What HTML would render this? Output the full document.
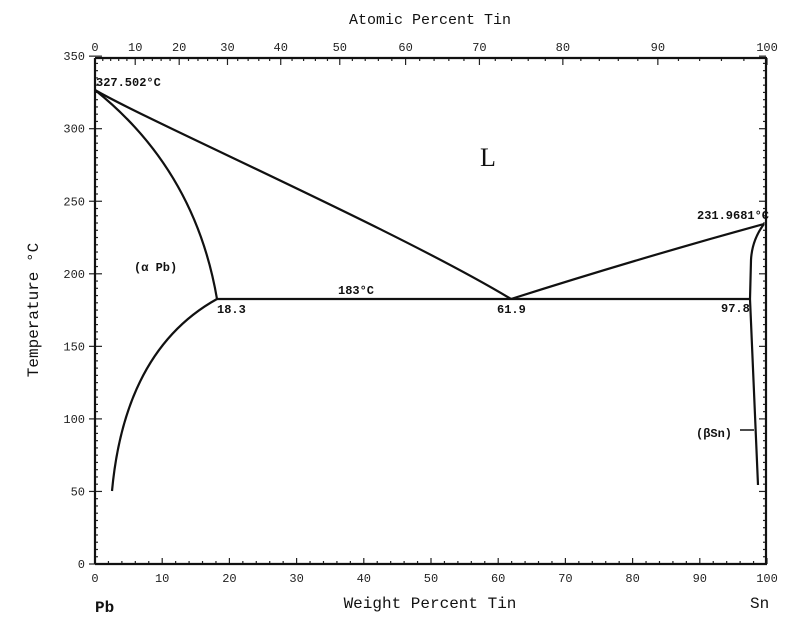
<!DOCTYPE html>
<html><head><meta charset="utf-8"><style>
body{margin:0;background:#fff;}
svg{display:block;font-family:"Liberation Mono",monospace;}
</style></head><body>
<svg id="s" width="800" height="620" viewBox="0 0 800 620" xmlns="http://www.w3.org/2000/svg">
<rect width="800" height="620" fill="#fff"/>
<g id="ticks" stroke="#222" stroke-width="1.2"></g>
<g fill="none" stroke="#111" stroke-width="2.2" stroke-linejoin="round">
<line x1="95" y1="58" x2="767" y2="58"/>
<line x1="95" y1="58" x2="95" y2="564"/>
<line x1="95" y1="564" x2="767" y2="564"/>
<line x1="766" y1="58" x2="766" y2="564"/>
<path d="M95,90 C150,122 400,232 511,299"/>
<path d="M95,90 Q195,170 217,299"/>
<path d="M217,299 Q125,350 112,491"/>
<line x1="217" y1="299" x2="750" y2="299"/>
<path d="M511,299 Q640,258 764,224"/>
<path d="M764,224 Q752,240 751,260 L750,299 Q754,400 758,485"/>
<path d="M740,430 L754,430" stroke-width="1.5"/>
</g>
<g font-size="12" fill="#111" font-weight="bold">
<text x="96" y="86">327.502°C</text>
<text x="697" y="219">231.9681°C</text>
<text x="217" y="313">18.3</text>
<text x="497" y="313">61.9</text>
<text x="721" y="312">97.8</text>
<text x="338" y="294">183°C</text>
<text x="134" y="271">(α Pb)</text>
<text x="696" y="437">(βSn)</text>
</g>
<text x="480" y="166" font-family="Liberation Serif,serif" font-size="26" fill="#111">L</text>
<g font-size="12" fill="#222" id="lab"></g>
<text x="430" y="24" font-size="15" text-anchor="middle" fill="#111">Atomic Percent Tin</text>
<text x="430" y="608" font-size="16" text-anchor="middle" fill="#111">Weight Percent Tin</text>
<text x="95" y="612" font-size="16" fill="#111" font-weight="bold">Pb</text>
<text x="750" y="608" font-size="16" fill="#111">Sn</text>
<text transform="translate(38,310) rotate(-90)" font-size="16" text-anchor="middle" fill="#111">Temperature °C</text>
</svg>
<script>
var NS="http://www.w3.org/2000/svg",t=document.getElementById('ticks'),l=document.getElementById('lab');
function ln(a,b,c,d){var e=document.createElementNS(NS,'line');e.setAttribute('x1',a);e.setAttribute('y1',b);e.setAttribute('x2',c);e.setAttribute('y2',d);t.appendChild(e);}
function tx(x,y,s,anc){var e=document.createElementNS(NS,'text');e.setAttribute('x',x);e.setAttribute('y',y);e.setAttribute('text-anchor',anc||'middle');e.textContent=s;l.appendChild(e);}
function X(w){return 95+6.72*w;} function Y(T){return 564-1.451*T;}
for(var T=0;T<=350;T+=5){var L=T%50==0?7:3;ln(95-(T%50==0?6:0),Y(T),95+L,Y(T));ln(766-L,Y(T),766,Y(T));if(T%50==0)tx(85,Y(T)+4,T,'end');}
for(var w=0;w<=100;w+=2){var L=w%10==0?6:3;ln(X(w),564-L,X(w),564);if(w%10==0)tx(X(w),582,w);}
for(var a=0;a<=100;a+=2){var w=100*a*118.71/(a*118.71+(100-a)*207.2);var L=a%10==0?7:3;ln(X(w),58,X(w),58+L);if(a%10==0)tx(X(w),51,a);}
</script>
</body></html>
